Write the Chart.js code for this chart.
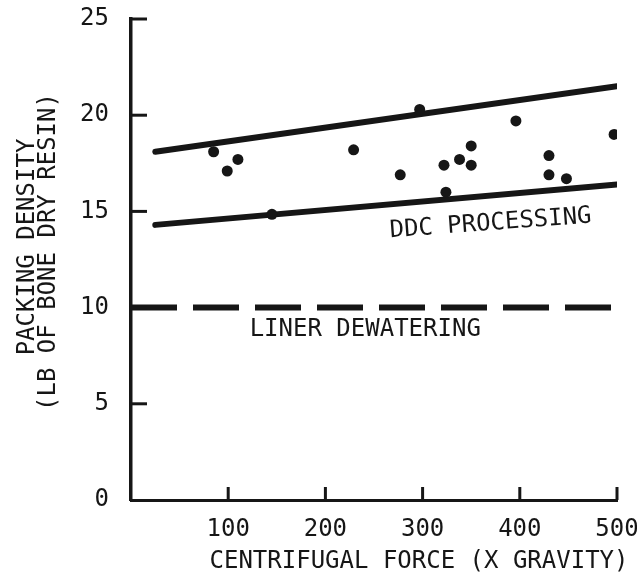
<!DOCTYPE html>
<html>
<head>
<meta charset="utf-8">
<script src="https://cdn.jsdelivr.net/npm/chart.js@4.4.1/dist/chart.umd.min.js"></script>
<style>
  html, body { margin: 0; padding: 0; background: #ffffff; }
  canvas { display: block; }
</style>
</head>
<body>
<canvas id="c" width="637" height="584"></canvas>
<script>
// ---- data ----
const xTicks = [100, 200, 300, 400, 500];
const yTicks = [0, 5, 10, 15, 20, 25];

const forceX   = [85, 99, 110, 145, 229, 277, 297, 322, 324, 338, 350, 350, 396, 430, 430, 448, 497];
const densityY = [18.1, 17.1, 17.7, 14.85, 18.2, 16.9, 20.3, 17.4, 16.0, 17.7, 18.4, 17.4, 19.7, 17.9, 16.9, 16.7, 19.0];

const upperX = [25, 500];
const upperY = [18.1, 21.5];
const lowerX = [25, 500];
const lowerY = [14.3, 16.4];
const linerX = [0, 500];
const linerY = [10, 10];

const xTitle = 'CENTRIFUGAL FORCE (X GRAVITY)';
const yTitle = ['PACKING DENSITY', '(LB OF BONE DRY RESIN)'];
const ddcLabel = { text: 'DDC PROCESSING', x: 370, y: 14.36 };
const linerLabel = { text: 'LINER DEWATERING', x: 241, y: 8.86 };

// ---- helpers ----
const INK = '#161616';
const FONT = '"DejaVu Sans Mono", "Liberation Mono", monospace';
const pts = (xs, ys) => xs.map((x, i) => ({ x: x, y: ys[i] }));

const bgPlugin = {
  id: 'bg',
  beforeDraw(chart) {
    const ctx = chart.ctx;
    ctx.save();
    ctx.fillStyle = '#ffffff';
    ctx.fillRect(0, 0, chart.width, chart.height);
    ctx.restore();
  }
};

const decoPlugin = {
  id: 'deco',
  afterDraw(chart) {
    const ctx = chart.ctx;
    const xs = chart.scales.x, ys = chart.scales.y;
    const a = chart.chartArea;
    ctx.save();
    ctx.strokeStyle = INK;
    ctx.lineWidth = 3;
    ctx.lineCap = 'butt';
    // inward tick marks
    xTicks.forEach(v => {
      const px = xs.getPixelForValue(v);
      ctx.beginPath(); ctx.moveTo(px, a.bottom); ctx.lineTo(px, a.bottom - 13); ctx.stroke();
    });
    yTicks.forEach(v => {
      if (v === 0) return;
      const py = ys.getPixelForValue(v);
      ctx.beginPath(); ctx.moveTo(a.left, py); ctx.lineTo(a.left + 16, py); ctx.stroke();
    });

    ctx.fillStyle = INK;
    ctx.font = '24px ' + FONT;
    ctx.textBaseline = 'middle';
    ctx.textAlign = 'center';

    // x axis title
    ctx.fillText(xTitle, 419, 562);

    // y axis title (two lines, rotated)
    ctx.save();
    ctx.translate(28, 247);
    ctx.rotate(-Math.PI / 2);
    ctx.fillText(yTitle[0], 0, 0);
    ctx.restore();
    ctx.save();
    ctx.translate(49, 252);
    ctx.rotate(-Math.PI / 2);
    ctx.fillText(yTitle[1], 0, 0);
    ctx.restore();

    // annotations
    ctx.save();
    ctx.translate(xs.getPixelForValue(ddcLabel.x), ys.getPixelForValue(ddcLabel.y));
    ctx.rotate(-4.2 * Math.PI / 180);
    ctx.fillText(ddcLabel.text, 0, 0);
    ctx.restore();

    ctx.fillText(linerLabel.text, xs.getPixelForValue(linerLabel.x), ys.getPixelForValue(linerLabel.y));
    ctx.restore();
  }
};

new Chart(document.getElementById('c'), {
  type: 'scatter',
  data: {
    datasets: [
      {
        label: 'Data', data: pts(forceX, densityY),
        showLine: false, pointRadius: 5.5, pointBackgroundColor: INK, pointBorderColor: INK, pointBorderWidth: 0
      },
      {
        label: 'Upper', data: pts(upperX, upperY), showLine: true,
        borderColor: INK, borderWidth: 6, pointRadius: 0, borderCapStyle: 'round'
      },
      {
        label: 'Lower', data: pts(lowerX, lowerY), showLine: true,
        borderColor: INK, borderWidth: 6, pointRadius: 0, borderCapStyle: 'round'
      },
      {
        label: 'Liner', data: pts(linerX, linerY), showLine: true,
        borderColor: INK, borderWidth: 6, pointRadius: 0, borderDash: [46, 16], borderCapStyle: 'butt'
      }
    ]
  },
  options: {
    responsive: false,
    animation: false,
    devicePixelRatio: 1,
    layout: { padding: { top: 19, right: 20, left: 0, bottom: 0 } },
    plugins: { legend: { display: false }, tooltip: { enabled: false } },
    scales: {
      x: {
        type: 'linear', min: 0, max: 500,
        afterBuildTicks: s => { s.ticks = xTicks.map(v => ({ value: v })); },
        afterFit: s => { s.height = 84; s.paddingLeft = 0; s.paddingRight = 0; },
        grid: { display: false },
        border: { display: true, color: INK, width: 3 },
        ticks: { color: INK, padding: 7, font: { family: FONT, size: 24 } }
      },
      y: {
        type: 'linear', min: 0, max: 25,
        afterBuildTicks: s => { s.ticks = yTicks.map(v => ({ value: v })); },
        afterFit: s => { s.width = 131; s.paddingTop = 0; s.paddingBottom = 0; },
        grid: { display: false },
        border: { display: true, color: INK, width: 3.5 },
        ticks: { color: INK, padding: 14, font: { family: FONT, size: 24 } }
      }
    }
  },
  plugins: [bgPlugin, decoPlugin]
});
</script>
</body>
</html>
